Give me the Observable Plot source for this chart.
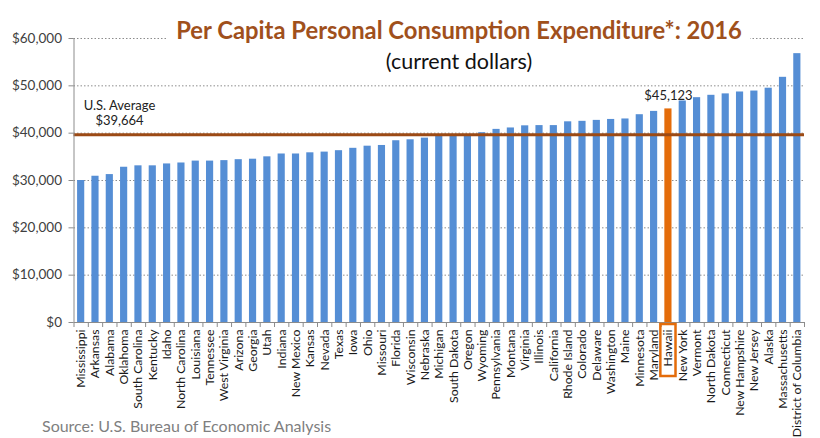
<!DOCTYPE html>
<html>
<head>
<meta charset="utf-8">
<script src="https://cdn.jsdelivr.net/npm/d3@7"></script>
<script src="https://cdn.jsdelivr.net/npm/@observablehq/plot@0.6"></script>
<style>
  html, body { margin: 0; padding: 0; background: #fff; }
  #wrap { position: relative; width: 820px; height: 438px; background: #fff; font-family: Lato, "Open Sans", sans-serif; overflow: hidden; }
  #chart { position: absolute; left: 0; top: 0; }
  #titlebox { position: absolute; left: 168px; top: 14px; width: 582px; height: 64px; background: #fff; text-align: center; }
  #title { position: absolute; left: -20px; right: -20px; top: 2px; font-size: 23.8px; font-weight: bold; color: #A0501C; line-height: 28px; white-space: nowrap; }
  #subtitle { position: absolute; left: 0; right: 0; top: 34px; font-size: 21.5px; color: #111; line-height: 26px; }
  #source { position: absolute; left: 42px; top: 416px; font-size: 16px; color: #7f7f7f; line-height: 20px; white-space: nowrap; }
</style>
</head>
<body>
<div id="wrap">
  <div id="chart"></div>
  <div id="titlebox">
    <div id="title">Per Capita Personal Consumption Expenditure*: 2016</div>
    <div id="subtitle">(current dollars)</div>
  </div>
  <div id="source">Source: U.S. Bureau of Economic Analysis</div>
</div>
<script>
const states = ["Mississippi","Arkansas","Alabama","Oklahoma","South Carolina","Kentucky","Idaho","North Carolina","Louisiana","Tennessee","West Virginia","Arizona","Georgia","Utah","Indiana","New Mexico","Kansas","Nevada","Texas","Iowa","Ohio","Missouri","Florida","Wisconsin","Nebraska","Michigan","South Dakota","Oregon","Wyoming","Pennsylvania","Montana","Virginia","Illinois","California","Rhode Island","Colorado","Delaware","Washington","Maine","Minnesota","Maryland","Hawaii","New York","Vermont","North Dakota","Connecticut","New Hampshire","New Jersey","Alaska","Massachusetts","District of Columbia"];
const values = [30000,30900,31250,32800,33100,33100,33500,33700,34100,34100,34200,34400,34500,35000,35600,35600,35850,36000,36300,36800,37250,37400,38400,38600,38950,39400,39500,39600,40100,40800,41100,41550,41600,41600,42400,42500,42700,42900,43000,43900,44600,45123,46800,47500,48000,48300,48700,48900,49500,51800,56800];
const usAverage = 39664;
const highlightState = "Hawaii";
const yTicks = [0,10000,20000,30000,40000,50000,60000];

const data = states.map((s, i) => ({state: s, value: values[i]}));
const fmt = d3.format(",");
const W = 820, H = 438, mL = 73.5, mR = 16, mT = 38, mB = 116;
const step = (W - mL - mR) / states.length;
const blue = "#558ED5", orange = "#E46C0A", brown = "#9C4A15", gray = "#8c8c8c";

const chart = Plot.plot({
  width: W, height: H,
  marginLeft: mL, marginRight: mR, marginTop: mT, marginBottom: mB,
  style: {fontFamily: "Lato, 'Open Sans', sans-serif", background: "transparent", color: "#404040"},
  x: {type: "band", domain: states, paddingInner: 0.5, paddingOuter: 0.25, round: false, axis: null},
  y: {domain: [0, 60000], axis: null, label: null},
  marks: [
    Plot.ruleY(yTicks.filter(v => v > 0), {stroke: gray, strokeOpacity: 1, strokeDasharray: "1.5,2"}),
    Plot.barY(data, {x: "state", y: "value", fill: d => d.state === highlightState ? orange : blue}),
    Plot.ruleY([usAverage], {stroke: brown, strokeWidth: 3}),
    Plot.ruleY([0], {stroke: gray}),
    Plot.ruleX([states[0]], {y1: 0, y2: 60000, dx: -step / 2, stroke: gray}),
    Plot.ruleX(states, {y1: 0, y2: 0, insetBottom: -5, dx: -step / 2, stroke: gray}),
    Plot.ruleX([states[states.length - 1]], {y1: 0, y2: 0, insetBottom: -5, dx: step / 2, stroke: gray}),
    Plot.axisY({ticks: yTicks, tickSize: 5, tickPadding: 7, tickFormat: d => "$" + fmt(d), fontSize: 13.5, stroke: gray, fill: "#404040", label: null}),
    Plot.text(states, {x: d => d, y: 0, text: d => d, rotate: -90, textAnchor: "end", dy: 7, fontSize: 12.3, fill: "#1a1a1a"}),
    Plot.barY([highlightState], {x: d => d, y1: 0, y2: 0, insetTop: 2, insetBottom: -54, insetLeft: -4, insetRight: -4, fill: "none", stroke: orange, strokeWidth: 2.5}),
    Plot.text([usAverage], {frameAnchor: "left", y: d => d, text: d => `U.S. Average\n$${fmt(d)}`, dx: 45.5, dy: -22, textAnchor: "middle", fontSize: 13, lineHeight: 1.15, fill: "#222"}),
    Plot.text(data.filter(d => d.state === highlightState), {x: "state", y: "value", text: d => "$" + fmt(d.value), dy: -13, fontSize: 13, fill: "#222"})
  ]
});
document.getElementById("chart").appendChild(chart);
</script>
</body>
</html>
